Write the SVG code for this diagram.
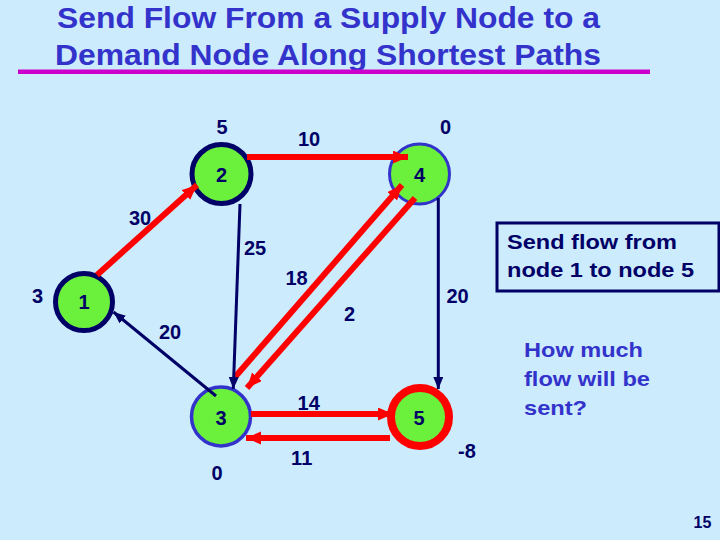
<svg xmlns="http://www.w3.org/2000/svg" width="720" height="540" viewBox="0 0 720 540">
<style>
.title{font-family:"Liberation Sans",Arial,sans-serif;font-weight:bold;font-size:29px;fill:#3333CC}
.lbl{font-family:"Liberation Sans",Arial,sans-serif;font-weight:bold;font-size:20px;fill:#000066;text-anchor:middle}
.nl{font-family:"Liberation Sans",Arial,sans-serif;font-weight:bold;font-size:20px;fill:#000066;text-anchor:middle}
.node{fill:#6BF03C}
.red{stroke:#FF0000;stroke-width:6;fill:none}
.navy{stroke:#000066;stroke-width:3;fill:none}
.box{font-family:"Liberation Sans",Arial,sans-serif;font-weight:bold;font-size:21px;fill:#000066}
.q{font-family:"Liberation Sans",Arial,sans-serif;font-weight:bold;font-size:21px;fill:#3333CC}
</style>
<defs>
<marker id="ar" markerUnits="userSpaceOnUse" markerWidth="16" markerHeight="14" refX="15" refY="6.5" orient="auto">
<path d="M0,0 L15,6.5 L0,13 z" fill="#FF0000"/>
</marker>
<marker id="an" markerUnits="userSpaceOnUse" markerWidth="13" markerHeight="11" refX="12" refY="5" orient="auto">
<path d="M0,0 L12,5 L0,10 z" fill="#000066"/>
</marker>
</defs>
<rect width="720" height="540" fill="#CCEBFD"/>
<g id="title">
<text class="title" x="57" y="28" textLength="543" lengthAdjust="spacingAndGlyphs">Send Flow From a Supply Node to a</text>
<text class="title" x="55" y="65" textLength="546" lengthAdjust="spacingAndGlyphs">Demand Node Along Shortest Paths</text>
<line x1="18" y1="71.7" x2="650" y2="71.7" stroke="#CC00CC" stroke-width="4.5"/>
</g>
<g id="node1">
<circle class="node" cx="84" cy="302" r="28.5" stroke="#000066" stroke-width="5"/>
<text class="nl" x="84" y="309">1</text>
<text class="lbl" x="37.5" y="303">3</text>
</g>
<g id="node2">
<circle class="node" cx="221.5" cy="174" r="29.5" stroke="#000066" stroke-width="5"/>
<text class="nl" x="221.5" y="182">2</text>
<text class="lbl" x="222" y="134">5</text>
</g>
<g id="node3">
<circle class="node" cx="221" cy="416.5" r="29.5" stroke="#3333CC" stroke-width="3.5"/>
<text class="nl" x="221" y="425">3</text>
<text class="lbl" x="217" y="480">0</text>
</g>
<g id="node4">
<circle class="node" cx="419.5" cy="174" r="30" stroke="#3333CC" stroke-width="3"/>
<text class="nl" x="419.5" y="182">4</text>
<text class="lbl" x="445.5" y="134">0</text>
</g>
<g id="node5">
<circle class="node" cx="420" cy="417" r="29" stroke="#FF0000" stroke-width="8"/>
<text class="nl" x="419" y="425">5</text>
<text class="lbl" x="467" y="458">-8</text>
</g>
<g id="connectors">
<line class="red" x1="97" y1="275" x2="197" y2="185" marker-end="url(#ar)"/>
<line class="red" x1="247" y1="157" x2="408" y2="157" marker-end="url(#ar)"/>
<line class="red" x1="235" y1="377" x2="402" y2="185" marker-end="url(#ar)"/>
<line class="red" x1="415" y1="198" x2="247" y2="388" marker-end="url(#ar)"/>
<line class="red" x1="251" y1="414" x2="393" y2="414" marker-end="url(#ar)"/>
<line class="red" x1="390" y1="438" x2="246" y2="438" marker-end="url(#ar)"/>
<line class="navy" x1="240" y1="204" x2="233.3" y2="389" marker-end="url(#an)"/>
<line class="navy" x1="438.3" y1="198" x2="438.3" y2="389" marker-end="url(#an)"/>
<line class="navy" x1="216" y1="396" x2="113.5" y2="312" marker-end="url(#an)"/>
<text class="lbl" x="309" y="146">10</text>
<text class="lbl" x="140" y="225">30</text>
<text class="lbl" x="255" y="255">25</text>
<text class="lbl" x="296.5" y="285">18</text>
<text class="lbl" x="349.5" y="321">2</text>
<text class="lbl" x="457.5" y="303">20</text>
<text class="lbl" x="170" y="339">20</text>
<text class="lbl" x="308.7" y="410">14</text>
<text class="lbl" x="301.7" y="465">11</text>
</g>
<g id="note">
<rect x="497" y="223" width="222" height="68" fill="none" stroke="#000066" stroke-width="3"/>
<text class="box" x="507" y="249" textLength="170" lengthAdjust="spacingAndGlyphs">Send flow from</text>
<text class="box" x="507" y="277" textLength="187" lengthAdjust="spacingAndGlyphs">node 1 to node 5</text>
</g>
<g id="question">
<text class="q" x="524" y="357" textLength="119" lengthAdjust="spacingAndGlyphs">How much</text>
<text class="q" x="524" y="386" textLength="126" lengthAdjust="spacingAndGlyphs">flow will be</text>
<text class="q" x="524" y="415" textLength="63" lengthAdjust="spacingAndGlyphs">sent?</text>
</g>
<text x="702.5" y="528" font-family="Liberation Sans,Arial,sans-serif" font-weight="bold" font-size="16" fill="#000066" text-anchor="middle">15</text>
</svg>
